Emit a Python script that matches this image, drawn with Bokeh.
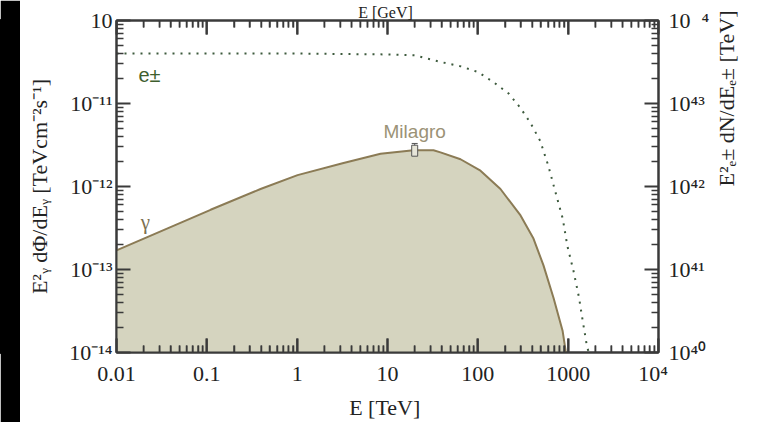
import math
from bokeh.plotting import figure
from bokeh.layouts import row
from bokeh.models import (Range1d, LogScale, LogAxis, FixedTicker, Label,
                          Whisker, ColumnDataSource, TeeHead,
                          CustomJSTickFormatter)
from bokeh.embed import file_html
from bokeh.resources import INLINE

# ---------------- data ----------------
# gamma-ray spectrum  E^2 dPhi/dE  [TeV cm^-2 s^-1]
gamma_E = [0.01, 0.11, 0.393, 1.01, 3.18, 8.37, 19.4, 32.3, 38.6, 64.3, 107,
           178, 297, 413, 533, 689, 867, 936, 950]
gamma_flux = [1.7e-13, 5.24e-13, 9.33e-13, 1.37e-12, 1.91e-12, 2.48e-12,
              2.73e-12, 2.73e-12, 2.58e-12, 2.13e-12, 1.55e-12, 9.33e-13,
              4.48e-13, 2.36e-13, 1.12e-13, 4.54e-14, 1.83e-14, 1.06e-14, 1.0e-14]
flux_floor = 1e-14
flux_ceiling = 1e-10

# e+- spectrum  E^2 dN/dE  [TeV]
pair_E = [0.01, 1, 10, 20, 39, 65, 100, 148, 219, 295, 380, 490, 603, 724,
          871, 977, 1148, 1318, 1445, 1622, 1700]
pair_spec = [4.0e43, 4.0e43, 3.9e43, 3.8e43, 3.16e43, 2.8e43, 2.4e43, 1.82e43,
             1.32e43, 8.9e42, 5.9e42, 3.55e42, 1.78e42, 8.5e41, 4.1e41, 1.95e41,
             9.5e40, 4.6e40, 2.45e40, 1.15e40, 1.0e40]

# Milagro measurement
milagro_E = [20.0]
milagro_flux = [2.7e-12]
milagro_lo = [2.19e-12]
milagro_hi = [3.3e-12]

# axes
x_ticks = [0.01, 0.1, 1.0, 10.0, 100.0, 1000.0, 10000.0]
x_last_label = "10⁴\u2002"
y_ticks = [1e-14, 1e-13, 1e-12, 1e-11, 1e-10]
y_tick_labels = ["10⁻¹⁴", "10⁻¹³", "10⁻¹²", "10⁻¹¹", "10"]
y2_ticks = [1e40, 1e41, 1e42, 1e43, 1e44]
y2_tick_labels = ["10⁴⁰", "10⁴¹", "10⁴²", "10⁴³", "10\u2002⁴"]

x_minor = [m * 10.0 ** k for k in range(-2, 4) for m in range(2, 10)]
y_minor = [m * 10.0 ** k for k in range(-14, -10) for m in range(2, 10)]
y2_minor = [m * 10.0 ** k for k in range(40, 44) for m in range(2, 10)]

# ---------------- styles ----------------
SERIF = "Liberation Serif"
SANS = "Liberation Sans"
AX = "#3a3a3a"
FILL = "#d5d4bf"
CURVE = "#8b7b55"
DOTS = "#3d5a3d"

p = figure(width=740, height=422, x_axis_type="log", y_axis_type="log",
           x_range=Range1d(0.01, 1e4), y_range=Range1d(flux_floor, flux_ceiling),
           toolbar_location=None, output_backend="svg",
           min_border_left=96, min_border_right=102, min_border_top=20,
           min_border_bottom=67, outline_line_color=AX, outline_line_width=2,
           background_fill_color="white", border_fill_color="white")
p.grid.visible = False

p.extra_y_ranges = {"e": Range1d(1e40, 1e44)}
p.extra_y_scales = {"e": LogScale()}
right = LogAxis(y_range_name="e")
p.add_layout(right, "right")
top = LogAxis()
p.add_layout(top, "above")


def style(ax):
    ax.axis_line_color = AX
    ax.axis_line_width = 2
    ax.major_tick_line_color = AX
    ax.major_tick_line_width = 2
    ax.minor_tick_line_color = AX
    ax.minor_tick_line_width = 1.5
    ax.major_tick_in = 14
    ax.major_tick_out = 0
    ax.minor_tick_in = 7
    ax.minor_tick_out = 0
    ax.major_label_text_font = SERIF
    ax.major_label_text_font_size = "22px"
    ax.major_label_text_color = "#222222"
    ax.axis_label_text_font = SERIF
    ax.axis_label_text_font_size = "22px"
    ax.axis_label_text_font_style = "normal"
    ax.axis_label_text_color = "#222222"


for ax in [p.below[0], p.left[0], right, top]:
    style(ax)

xa = p.below[0]
xa.ticker = FixedTicker(ticks=x_ticks, minor_ticks=x_minor)
xa.formatter = CustomJSTickFormatter(
    args=dict(last=x_last_label),
    code="return tick >= 9999 ? last : String(tick);")
xa.major_label_standoff = 8
xa.axis_label = "E  [TeV]"
xa.axis_label_standoff = 6

top.ticker = FixedTicker(ticks=x_ticks, minor_ticks=x_minor)
top.formatter = CustomJSTickFormatter(code="return '';")
top.major_label_text_font_size = "1px"
top.major_label_standoff = 0
top.axis_label = "E  [GeV]"
top.axis_label_text_font_size = "16px"
top.axis_label_standoff = 0

ya = p.left[0]
ya.ticker = FixedTicker(ticks=y_ticks, minor_ticks=y_minor)
ya.major_label_overrides = dict(zip(y_ticks, y_tick_labels))
ya.major_label_standoff = 4
ya.axis_label = "E²ᵧ dΦ/dEᵧ [TeVcm⁻²s⁻¹]"
ya.axis_label_standoff = 14

right.ticker = FixedTicker(ticks=y2_ticks, minor_ticks=y2_minor)
right.major_label_overrides = dict(zip(y2_ticks, y2_tick_labels))
right.major_label_standoff = 10
right.axis_label = "E²ₑ± dN/dEₑ±  [TeV]"
right.axis_label_standoff = 14
right.axis_label_orientation = math.pi / 2

# ---------------- glyphs ----------------
p.varea(x=gamma_E, y1=flux_floor, y2=gamma_flux, fill_color=FILL)
p.line(gamma_E, gamma_flux, line_color=CURVE, line_width=2)
p.line(pair_E, pair_spec, y_range_name="e", line_color=DOTS, line_width=2,
       line_dash="2 6")

# inward tick marks along the bottom and top edges, as thin filled bars
# centred on the frame edge (half of each bar is clipped away)
for edge in (flux_floor, flux_ceiling):
    p.rect(x=x_ticks, y=edge, width=2, height=28, width_units="screen",
           height_units="screen", fill_color=AX, line_color=None)
    p.rect(x=x_minor, y=edge, width=1.5, height=14, width_units="screen",
           height_units="screen", fill_color=AX, line_color=None)

msrc = ColumnDataSource(dict(E=milagro_E, lo=milagro_lo, hi=milagro_hi))
p.add_layout(Whisker(source=msrc, base="E", lower="lo", upper="hi",
                     dimension="height", line_color="#555555", line_width=1,
                     upper_head=TeeHead(size=6, line_color="#555555", line_width=1),
                     lower_head=TeeHead(size=6, line_color="#555555", line_width=1)))
p.rect(x=milagro_E, y=milagro_flux, width=6, height=11, width_units="screen",
       height_units="screen", fill_color="#e6e5d8", line_color="#555555",
       line_width=1)

p.add_layout(Label(x=20, y=4.6e-12, text="Milagro", text_align="center",
                   text_baseline="middle", text_font=SANS,
                   text_font_size="19px", text_color="#9b9276"))
p.add_layout(Label(x=0.0175, y=2.2e-11, text="e±", text_align="left",
                   text_baseline="middle", text_font=SANS,
                   text_font_size="20px", text_color="#3e5e2e"))
p.add_layout(Label(x=0.0185, y=3.7e-13, text="γ", text_align="left",
                   text_baseline="middle", text_font=SERIF,
                   text_font_size="21px", text_color="#7d7050"))

strip = figure(width=20, height=422, toolbar_location=None, output_backend="svg",
               min_border=0, x_axis_location=None, y_axis_location=None,
               background_fill_color="black", border_fill_color="black",
               outline_line_color="black", outline_line_width=3,
               x_range=Range1d(0, 1), y_range=Range1d(0, 1))
strip.grid.visible = False

layout = row(strip, p, spacing=0)
open("out.html", "w").write(file_html(layout, INLINE))
